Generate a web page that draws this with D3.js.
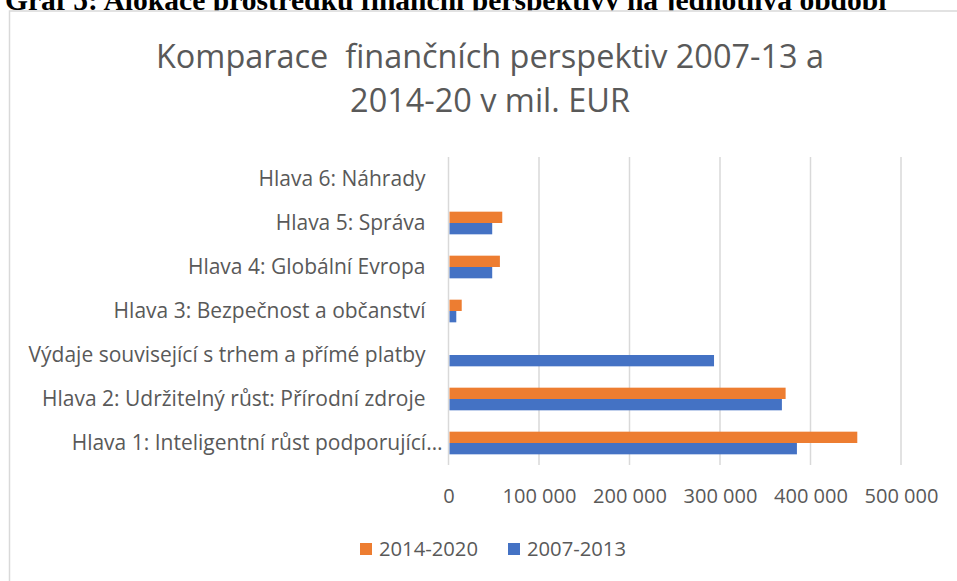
<!DOCTYPE html>
<html lang="cs">
<head>
<meta charset="utf-8">
<script src="https://d3js.org/d3.v7.min.js"></script>
<style>
    body { margin: 0; background: #fff; }
    .caption { font-family: "Liberation Serif", serif; font-weight: bold; fill: #000; }
    .chart-text { font-family: "Open Sans", sans-serif; fill: #595959; }
    .axis path, .axis line { display: none; }
</style>
</head>
<body>
<svg id="chart" width="957" height="581"></svg>
<script>
    var categories = [
        "Hlava 1: Inteligentní růst podporující…",
        "Hlava 2: Udržitelný růst: Přírodní zdroje",
        "Výdaje související s trhem a přímé platby",
        "Hlava 3: Bezpečnost a občanství",
        "Hlava 4: Globální Evropa",
        "Hlava 5: Správa",
        "Hlava 6: Náhrady"
    ];
    var series = ["2014-2020", "2007-2013"];
    var values2014 = [451700, 372500, 0, 14600, 56800, 59400, 27];
    var values2007 = [385000, 368400, 293400, 8600, 48300, 48300, 0];
    var xTicks = [0, 100000, 200000, 300000, 400000, 500000];
    var colors = ["#ED7D31", "#4472C4"];

    var svg = d3.select("#chart");
    var margin = {top: 157, left: 448.5, right: 56, bottom: 116};

    // font size so that a sample string gets the wanted width
    function fitSize(sample, family, weight, target) {
        var t = svg.append("text")
            .style("font-family", family)
            .style("font-weight", weight)
            .style("font-size", "20px")
            .text(sample);
        var w = t.node().getComputedTextLength();
        t.remove();
        return 20 * target / w;
    }

    var labelSize = fitSize(categories[2], "Open Sans", "normal", 397);
    var tickSize = fitSize("100 000", "Open Sans", "normal", 74);
    var titleSize = fitSize("Komparace  finančních perspektiv 2007-13 a", "Open Sans", "normal", 660);
    var legendSize = fitSize("2014-2020", "Open Sans", "normal", 99);

    // caption above the chart, partly cut off by the page top
    var capSize = fitSize("Graf 5: Alokace prostředků finanční perspektivy na jednotlivá období",
        "Liberation Serif", "bold", 882);
    svg.append("text")
        .attr("class", "caption")
        .attr("x", 5)
        .attr("y", 10)
        .style("font-size", capSize + "px")
        .text("Graf 5: Alokace prostředků finanční perspektivy na jednotlivá období");

    // chart frame
    svg.append("rect")
        .attr("x", 9.5)
        .attr("y", 11)
        .attr("width", 960)
        .attr("height", 600)
        .attr("fill", "#fff")
        .attr("stroke", "#d9d9d9")
        .attr("stroke-width", 1.5);

    var title = svg.append("text")
        .attr("class", "chart-text")
        .attr("text-anchor", "middle")
        .style("font-size", titleSize + "px");
    title.append("tspan").attr("x", 490).attr("y", 68).style("white-space", "pre")
        .text("Komparace  finančních perspektiv 2007-13 a");
    title.append("tspan").attr("x", 490).attr("y", 112).text("2014-20 v mil. EUR");

    var x = d3.scaleLinear()
        .domain([0, 500000])
        .range([margin.left, 901]);

    var y = d3.scaleBand()
        .domain(categories.slice().reverse())
        .range([157, 465])
        .paddingInner(0.485)
        .paddingOuter(0.2425);

    var ySub = d3.scaleBand()
        .domain(series)
        .range([0, y.bandwidth()]);

    // vertical grid
    svg.append("g")
        .selectAll("line")
        .data(xTicks)
        .join("line")
        .attr("x1", d => x(d))
        .attr("x2", d => x(d))
        .attr("y1", 157)
        .attr("y2", 465)
        .attr("stroke", "#d9d9d9")
        .attr("stroke-width", 1.5);

    var rows = categories.map(function(c, i) {
        return {cat: c, vals: [values2014[i], values2007[i]]};
    });

    var groups = svg.append("g")
        .selectAll("g")
        .data(rows)
        .join("g")
        .attr("transform", d => "translate(0," + y(d.cat) + ")");

    groups.selectAll("rect")
        .data(d => d.vals.map((v, j) => ({key: series[j], v: v, c: colors[j]})))
        .join("rect")
        .attr("x", x(0) + 1)
        .attr("y", d => ySub(d.key))
        .attr("width", d => Math.max(0, x(d.v) - x(0) - 1))
        .attr("height", ySub.bandwidth())
        .attr("fill", d => d.c);

    // category labels (the shortened one runs a bit further right, as in Excel)
    svg.append("g")
        .attr("class", "axis")
        .attr("transform", "translate(" + (margin.left - 23) + ",0)")
        .call(d3.axisLeft(y).tickSize(0).tickPadding(0))
        .call(g => g.selectAll("text")
            .attr("fill", "#595959")
            .attr("dx", d => d === categories[0] ? 17 : 0)
            .style("font-family", "'Open Sans', sans-serif")
            .style("font-size", labelSize + "px"));

    // value axis labels
    svg.append("g")
        .attr("class", "axis")
        .attr("transform", "translate(0,489)")
        .call(d3.axisBottom(x).tickValues(xTicks).tickSize(0).tickPadding(0)
            .tickFormat(d => d3.format(",")(d).replace(/,/g, " ")))
        .call(g => g.selectAll("text")
            .attr("fill", "#595959")
            .style("font-family", "'Open Sans', sans-serif")
            .style("font-size", tickSize + "px"));

    // legend
    var legendData = [
        {name: series[0], color: colors[0], x: 360},
        {name: series[1], color: colors[1], x: 508}
    ];
    var leg = svg.append("g")
        .selectAll("g")
        .data(legendData)
        .join("g")
        .attr("transform", d => "translate(" + d.x + ",543)");
    leg.append("rect")
        .attr("width", 12)
        .attr("height", 12)
        .attr("fill", d => d.color);
    leg.append("text")
        .attr("class", "chart-text")
        .attr("x", 19)
        .attr("y", 13)
        .style("font-size", legendSize + "px")
        .text(d => d.name);
</script>
</body>
</html>
